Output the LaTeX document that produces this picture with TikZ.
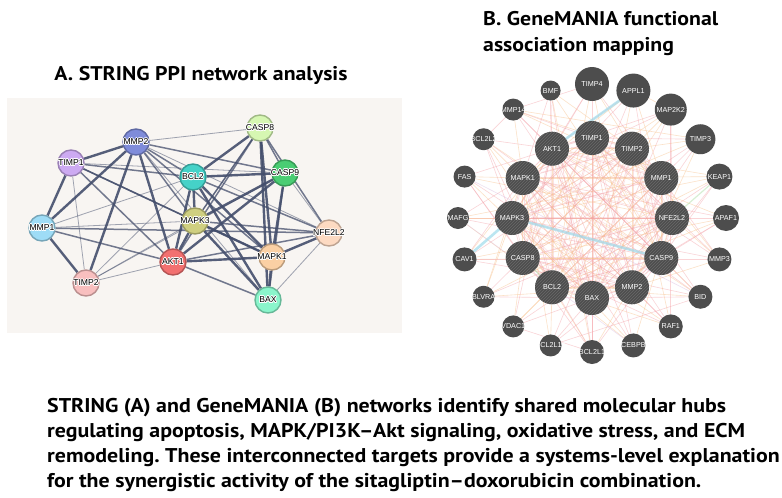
\documentclass[tikz,border=0pt]{standalone}
\usepackage{fontspec}
\setmainfont{PT Sans}
\newfontfamily\capfamily{PT Sans}[FakeStretch=1.1]
\newfontfamily\labelfamily{Liberation Sans}
\usepackage{contour}
\contourlength{0.7pt}
\usetikzlibrary{patterns}
\usepackage{xcolor}
% STRING colours
\definecolor{panelbg}{HTML}{F8F5F2}
\definecolor{linkcol}{HTML}{444E6C}
\definecolor{cmmp2}{HTML}{7F8CDA}
\definecolor{ctimp1}{HTML}{CDAAF2}
\definecolor{cmmp1}{HTML}{9EDCF6}
\definecolor{ctimp2}{HTML}{F8BFBF}
\definecolor{cakt1}{HTML}{F27070}
\definecolor{cmapk3}{HTML}{CFCF80}
\definecolor{cbcl2}{HTML}{45D2C8}
\definecolor{ccasp8}{HTML}{D6F7B2}
\definecolor{ccasp9}{HTML}{4ACD73}
\definecolor{cnfe2l2}{HTML}{FDDAC2}
\definecolor{cmapk1}{HTML}{FBD0A4}
\definecolor{cbax}{HTML}{8AF5CB}
% GeneMANIA colours
\definecolor{gmnode}{HTML}{4D4D4D}
\definecolor{gmstripe}{HTML}{6A6A6A}
\definecolor{gpink}{HTML}{F4A0A6}
\definecolor{gorange}{HTML}{F8BE86}
\definecolor{gblue}{HTML}{9FDCEC}
\definecolor{ggreen}{HTML}{A8DCA0}
\definecolor{glilac}{HTML}{D8B8E0}

\newcommand\protfont{\labelfamily\fontsize{8.6}{9}\selectfont}
\newcommand\gmfont{\labelfamily\fontsize{7.2}{8}\selectfont}
\newcommand\plabel[1]{\makebox[0pt]{\contour{white}{#1}}}
\newcommand\hubs{TIMP1,TIMP2,MMP1,NFE2L2,CASP9,MMP2,BAX,BCL2,CASP8,MAPK3,MAPK1,AKT1}

\pgfdeclarelayer{panel}
\pgfdeclarelayer{edges}
\pgfsetlayers{panel,edges,main}

\begin{document}
\frenchspacing
\begin{tikzpicture}[x=1pt, y=-1pt,
    prot/.style={circle, inner sep=0pt, minimum size=26pt, line width=1.4pt,
                 fill=#1, draw=#1!75!black, font=\protfont},
    shi/.style={line width=2.4pt, draw=linkcol, draw opacity=.9},
    smd/.style={line width=1.5pt, draw=linkcol, draw opacity=.75},
    slo/.style={line width=.8pt, draw=linkcol, draw opacity=.5},
    gnode/.style={circle, inner sep=0pt, minimum size=#1pt, fill=gmnode,
                  text=white, font=\gmfont},
    hub/.style={gnode=34, postaction={pattern=north east lines,
                pattern color=gmstripe}},
    gedge/.style={draw=#1, line width=.6pt, draw opacity=.45},
    gband/.style={draw=#1, line width=2.6pt, draw opacity=.7},
    ttl/.style={font=\capfamily\bfseries\fontsize{19.8}{26}\selectfont,
                inner sep=0pt},
    captext/.style={font=\capfamily\bfseries\fontsize{19.9}{25}\selectfont,
                inner sep=0pt, align=left}
  ]
    \useasboundingbox (0,0) rectangle (782,498);
    \begin{pgfonlayer}{panel}
      \fill[white] (0,0) rectangle (782,498);
      \fill[panelbg] (7,98) rectangle (402,333);
    \end{pgfonlayer}

    % === A. STRING ===
    \node[ttl, anchor=base] (ttlA) at (201,80) {A. STRING PPI network analysis};

    \node[prot=ccasp8]  (sCASP8)  at (260,128) {\plabel{CASP8}};
    \node[prot=cmmp2]   (sMMP2)   at (136,142) {\plabel{MMP2}};
    \node[prot=ctimp1]  (sTIMP1)  at (71,163)  {\plabel{TIMP1}};
    \node[prot=cbcl2]   (sBCL2)   at (193,177) {\plabel{BCL2}};
    \node[prot=ccasp9]  (sCASP9)  at (285,173) {\plabel{CASP9}};
    \node[prot=cmapk3]  (sMAPK3)  at (195,221) {\plabel{MAPK3}};
    \node[prot=cmmp1]   (sMMP1)   at (42,228)  {\plabel{MMP1}};
    \node[prot=cnfe2l2] (sNFE2L2) at (329,233) {\plabel{NFE2L2}};
    \node[prot=cakt1]   (sAKT1)   at (173,262) {\plabel{AKT1}};
    \node[prot=cmapk1]  (sMAPK1)  at (272,257) {\plabel{MAPK1}};
    \node[prot=ctimp2]  (sTIMP2)  at (86,283)  {\plabel{TIMP2}};
    \node[prot=cbax]    (sBAX)    at (268,300) {\plabel{BAX}};

    \begin{pgfonlayer}{edges}
      % strong links
      \draw[shi] (sMMP2) -- (sTIMP1);  \draw[shi] (sMMP2) -- (sMMP1);
      \draw[shi] (sMMP2) -- (sTIMP2);  \draw[shi] (sMMP2) -- (sAKT1);
      \draw[shi] (sTIMP1) -- (sMMP1);  \draw[shi] (sMMP1) -- (sTIMP2);
      \draw[shi] (sAKT1) -- (sBCL2);   \draw[shi] (sAKT1) -- (sMAPK3);
      \draw[shi] (sAKT1) -- (sCASP9);  \draw[shi] (sAKT1) -- (sMAPK1);
      \draw[shi] (sBCL2) -- (sCASP8);  \draw[shi] (sBCL2) -- (sCASP9);
      \draw[shi] (sBCL2) -- (sMAPK3);  \draw[shi] (sBCL2) -- (sMAPK1);
      \draw[shi] (sBCL2) -- (sBAX);    \draw[shi] (sCASP8) -- (sMAPK1);
      \draw[shi] (sCASP8) -- (sBAX);   \draw[shi] (sCASP9) -- (sMAPK3);
      \draw[shi] (sCASP9) -- (sMAPK1); \draw[shi] (sMAPK3) -- (sMAPK1);
      \draw[shi] (sMAPK3) -- (sBAX);   \draw[shi] (sMAPK1) -- (sNFE2L2);
      \draw[shi] (sMAPK1) -- (sBAX);
      % medium links
      \draw[smd] (sMMP2) -- (sCASP9);  \draw[smd] (sMMP2) -- (sBCL2);
      \draw[smd] (sMMP2) -- (sMAPK1);  \draw[smd] (sMMP2) -- (sMAPK3);
      \draw[smd] (sTIMP1) -- (sMAPK3); \draw[smd] (sTIMP1) -- (sAKT1);
      \draw[smd] (sTIMP1) -- (sBCL2);  \draw[smd] (sTIMP1) -- (sMAPK1);
      \draw[smd] (sMMP1) -- (sAKT1);   \draw[smd] (sMMP1) -- (sNFE2L2);
      \draw[smd] (sAKT1) -- (sCASP8);  \draw[smd] (sAKT1) -- (sNFE2L2);
      \draw[smd] (sAKT1) -- (sBAX);    \draw[smd] (sBCL2) -- (sNFE2L2);
      \draw[smd] (sCASP8) -- (sMAPK3); \draw[smd] (sCASP8) -- (sNFE2L2);
      \draw[smd] (sCASP9) -- (sBAX);   \draw[smd] (sMAPK3) -- (sNFE2L2);
      \draw[smd] (sCASP8) -- (sCASP9);
      % weak links
      \draw[slo] (sMMP2) -- (sCASP8);  \draw[slo] (sMMP2) -- (sNFE2L2);
      \draw[slo] (sMMP2) -- (sBAX);    \draw[slo] (sTIMP1) -- (sTIMP2);
      \draw[slo] (sTIMP2) -- (sAKT1);  \draw[slo] (sTIMP2) -- (sMAPK3);
      \draw[slo] (sTIMP2) -- (sBCL2);  \draw[slo] (sTIMP2) -- (sCASP9);
      \draw[slo] (sMMP1) -- (sBCL2);   \draw[slo] (sMMP1) -- (sMAPK3);
      \draw[slo] (sCASP9) -- (sNFE2L2);\draw[slo] (sNFE2L2) -- (sBAX);
      \draw[slo] (sTIMP1) -- (sCASP9); \draw[slo] (sMAPK3) -- (sCASP8);
    \end{pgfonlayer}

    % === B. GeneMANIA ===
    \node[ttl, anchor=base west] (ttlB1) at (483,25) {B. GeneMANIA functional};
    \node[ttl, anchor=base west] (ttlB2) at (483,51) {association mapping};

    \begin{scope}[shift={(592,218)}]
      \foreach \name/\ang in {TIMP1/270, TIMP2/300, MMP1/330, NFE2L2/0,
          CASP9/30, MMP2/60, BAX/90, BCL2/120, CASP8/150, MAPK3/180,
          MAPK1/210, AKT1/240}
        \node[hub] (g\name) at (\ang:80) {\makebox[0pt]{\name}};
      \foreach \name/\ang/\d in {TIMP4/270/34, APPL1/288/34, MAP2K2/306/32,
          TIMP3/324/30, KEAP1/342/26, APAF1/0/26, MMP3/18/24, BID/36/24,
          RAF1/54/24, CEBPB/72/24, BCL2L1/90/24, BCL2L10/108/22,
          VDAC1/126/22, BLVRA/144/22, CAV1/162/24, MAFG/180/22, FAS/198/22,
          BCL2L2/216/22, MMP14/234/22, BMF/252/20}
        \node[gnode=\d] (g\name) at (\ang:134) {\makebox[0pt]{\name}};
    \end{scope}

    \begin{pgfonlayer}{edges}
      % hub to hub, two evidence types each
      \foreach \a [count=\i] in \hubs {
        \foreach \b [count=\j] in \hubs {
          \ifnum\j>\i
            \ifodd\numexpr\i+\j\relax \def\ecol{gpink}\else\def\ecol{gorange}\fi
            \draw[gedge=\ecol] (g\a) -- (g\b);
            \draw[gedge=gpink, draw opacity=.3,
                  transform canvas={shift={(1.5pt,1pt)}}] (g\a) -- (g\b);
          \fi
        }
      }
      % outer ring to hubs
      \foreach \a/\bs in {TIMP4/{TIMP1,TIMP2,MMP1,MMP2,MAPK3,BCL2,AKT1},
          APPL1/{AKT1,MAPK1,MAPK3,BAX,CASP9,MMP1,BCL2},
          MAP2K2/{MAPK1,MAPK3,AKT1,BCL2,NFE2L2,CASP8,BAX},
          TIMP3/{TIMP1,TIMP2,MMP1,MMP2,CASP8,MAPK3,BAX},
          KEAP1/{BCL2,MAPK1,CASP9,AKT1,MMP2,MAPK3},
          APAF1/{CASP9,CASP8,BAX,BCL2,MAPK1,AKT1,MAPK3},
          MMP3/{MMP1,MMP2,TIMP1,TIMP2,MAPK3,NFE2L2,AKT1},
          BID/{BAX,BCL2,CASP8,CASP9,AKT1,MAPK1,TIMP1},
          RAF1/{MAPK1,MAPK3,AKT1,BCL2,MMP2,TIMP2,CASP8},
          CEBPB/{MAPK1,MAPK3,AKT1,NFE2L2,TIMP1,CASP8},
          BCL2L1/{BAX,BCL2,CASP9,AKT1,MAPK3,NFE2L2,TIMP1},
          BCL2L10/{BAX,BCL2,CASP9,MAPK1,TIMP2},
          VDAC1/{BAX,BCL2,AKT1,CASP8,NFE2L2,MMP1},
          BLVRA/{NFE2L2,MAPK3,CASP8,MAPK1,BAX,MMP2},
          CAV1/{MAPK1,AKT1,MMP2,CASP9,TIMP2,NFE2L2},
          MAFG/{NFE2L2,MAPK3,MAPK1,BCL2,CASP9,MMP1},
          FAS/{CASP8,MAPK1,AKT1,BAX,MMP2,NFE2L2},
          BCL2L2/{BCL2,BAX,AKT1,CASP9,MAPK3,MMP2},
          MMP14/{MMP2,TIMP2,TIMP1,MMP1,AKT1,MAPK1,CASP9},
          BMF/{BCL2,BAX,AKT1,TIMP2,MAPK1,CASP9}} {
        \foreach \b [count=\k] in \bs {
          \ifodd\k \def\ecol{gpink}\else\def\ecol{gorange}\fi
          \draw[gedge=\ecol] (g\a) -- (g\b);
        }
      }
      % outer ring to outer ring
      \draw[gedge=gpink] (gBMF) -- (gBCL2L1);
      \draw[gedge=gpink] (gBCL2L2) -- (gBID);
      \draw[gedge=gorange] (gMMP14) -- (gTIMP3);
      \draw[gedge=gpink] (gMMP14) -- (gTIMP4);
      \draw[gedge=gpink] (gVDAC1) -- (gBCL2L1);
      \draw[gedge=gorange] (gAPPL1) -- (gMAP2K2);
      \draw[gedge=gpink] (gRAF1) -- (gMAP2K2);
      \draw[gedge=gpink] (gBCL2L10) -- (gBID);
      \draw[gedge=gpink] (gBCL2L2) -- (gMMP14);
      \draw[gedge=gpink] (gFAS) -- (gBCL2L1);
      \draw[gedge=gpink] (gCAV1) -- (gMMP3);
      \draw[gedge=gorange] (gBLVRA) -- (gKEAP1);
      \draw[gedge=glilac] (gCEBPB) -- (gMAFG);
      \draw[gedge=glilac] (gFAS) -- (gBID);
      % pathway and genetic bands
      \draw[gband=gblue] (gAKT1) -- (gAPPL1);
      \draw[gband=gblue] (gMAPK3) -- (gCASP9);
      \draw[gband=gblue] (gCAV1) -- (gMAPK3);
      \draw[gedge=ggreen, line width=1.2pt] (gKEAP1) -- (gNFE2L2);
      \draw[gedge=ggreen, line width=1.2pt] (gCASP8) -- (gBCL2);
    \end{pgfonlayer}

    % === Caption ===
    \node[captext, anchor=base west] (caption) at (47,487)
      {STRING (A) and GeneMANIA (B) networks identify shared molecular hubs\\
       regulating apoptosis, MAPK/PI3K–Akt signaling, oxidative stress, and ECM\\
       remodeling. These interconnected targets provide a systems-level explanation\\
       for the synergistic activity of the sitagliptin–doxorubicin combination.};
\end{tikzpicture}
\end{document}
